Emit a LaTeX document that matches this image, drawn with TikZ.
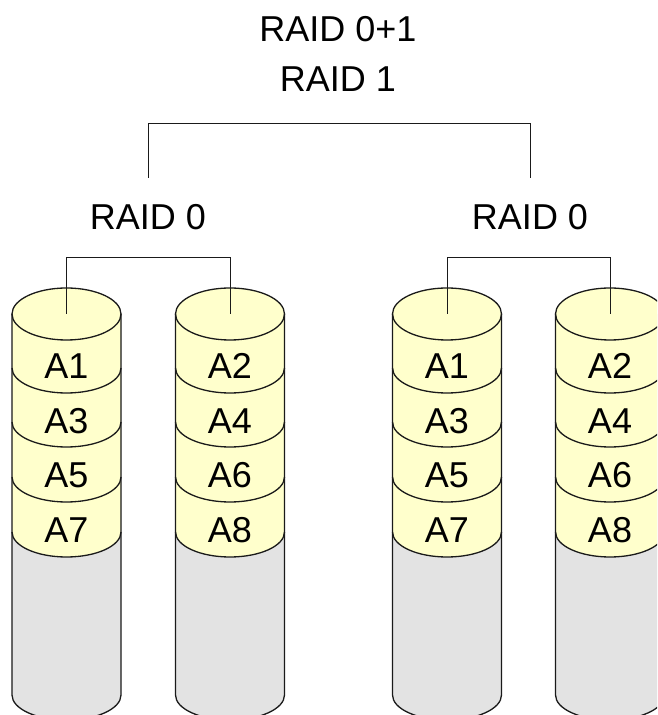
\documentclass[tikz,border=0pt]{standalone}
\usepackage{fontspec}
\setmainfont{Liberation Sans}
\definecolor{diskyellow}{HTML}{FFFFCC}
\definecolor{diskgray}{HTML}{E3E3E3}
\definecolor{edgecol}{HTML}{1A1A1A}
\tikzset{
  edgeline/.style={draw=edgecol, line width=1.3pt},
  linkline/.style={draw=edgecol, line width=1pt},
  lbl/.style={font=\fontsize{36}{40}\selectfont, inner sep=0pt, anchor=base},
}
\newcommand\diskcol[3]{%
  \begin{scope}[shift={(#1,0)}]
    \fill[diskgray] (-54.5,401) -- (-54.5,20)
      arc[start angle=180,end angle=360,x radius=54.5pt,y radius=25pt] -- (54.5,401) -- cycle;
    \fill[diskyellow] (-54.5,401) -- (-54.5,183)
      arc[start angle=180,end angle=360,x radius=54.5pt,y radius=25pt] -- (54.5,401) -- cycle;
    \fill[diskyellow] (0,401) ellipse[x radius=54.5pt,y radius=26pt];
    \foreach \yy in {347,293,238,183}
      \draw[edgeline] (-54.5,\yy) arc[start angle=180,end angle=360,x radius=54.5pt,y radius=25pt];
    \draw[edgeline] (-54.5,401) -- (-54.5,20)
      arc[start angle=180,end angle=360,x radius=54.5pt,y radius=25pt] -- (54.5,401);
    \draw[edgeline] (0,401) ellipse[x radius=54.5pt,y radius=26pt];
    \coordinate (#2) at (0,401);
    \foreach \t [count=\i from 0] in {#3}
      \node[lbl] (#2-\i) at (0,{336-54.5*\i}) {\t};
  \end{scope}
}
\begin{document}
\begin{tikzpicture}[x=1pt,y=1pt]
  \useasboundingbox (0,0) rectangle (657,715);
  \fill[white] (0,0) rectangle (657,715);
  \clip (0,0) rectangle (657,715);

  \node[lbl] (r01) at (338,673) {RAID 0+1};
  \node[lbl] (r1) at (338,623) {RAID 1};
  \node[lbl] (r0a) at (148,485) {RAID 0};
  \node[lbl] (r0b) at (530,485) {RAID 0};

  \diskcol{66.5}{d1}{A1,A3,A5,A7}
  \diskcol{230}{d2}{A2,A4,A6,A8}
  \diskcol{447}{d3}{A1,A3,A5,A7}
  \diskcol{610}{d4}{A2,A4,A6,A8}

  \coordinate (b1) at ([yshift=27pt]r0a.north);
  \coordinate (b2) at ([yshift=27pt]r0b.north);
  \draw[linkline] (b1) -- ++(0,54) -| (b2);

  \draw[linkline] (d1) -- ++(0,56) -| (d2);
  \draw[linkline] (d3) -- ++(0,56) -| (d4);
\end{tikzpicture}
\end{document}
